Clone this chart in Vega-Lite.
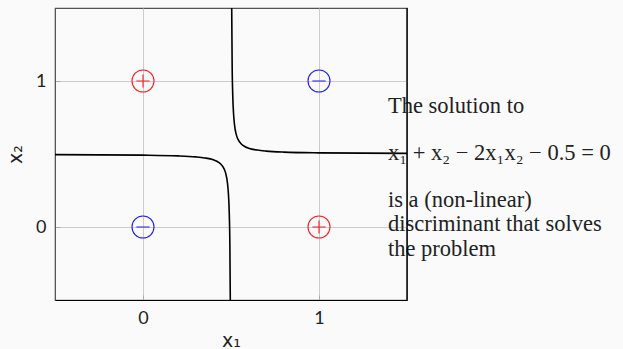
{
  "$schema": "https://vega.github.io/schema/vega-lite/v6.json",
  "width": 352,
  "height": 292,
  "autosize": {"type": "none"},
  "padding": {"left": 55, "top": 8, "right": 216, "bottom": 49},
  "background": "#fafafa",
  "config": {
    "view": {"stroke": "#555", "strokeWidth": 1.2},
    "axis": {
      "gridColor": "#cccccc",
      "gridWidth": 1,
      "ticks": true,
      "tickSize": -5,
      "tickColor": "#aaaaaa",
      "labelFont": "Lato",
      "labelFontSize": 18,
      "labelColor": "#222",
      "titleFont": "DejaVu Sans",
      "titleFontSize": 19,
      "titleFontWeight": "normal",
      "titleColor": "#222"
    }
  },
  "datasets": {
    "points": [
      {"x1": 0, "x2": 1, "sign": "+"},
      {"x1": 1, "x2": 0, "sign": "+"},
      {"x1": 1, "x2": 1, "sign": "-"},
      {"x1": 0, "x2": 0, "sign": "-"}
    ],
    "curve": [
      {"branch": "lower", "x1": -0.5, "x2": 0.496},
      {"branch": "lower", "x1": 0.0, "x2": 0.492},
      {"branch": "lower", "x1": 0.2, "x2": 0.487},
      {"branch": "lower", "x1": 0.3, "x2": 0.48},
      {"branch": "lower", "x1": 0.35, "x2": 0.473},
      {"branch": "lower", "x1": 0.4, "x2": 0.46},
      {"branch": "lower", "x1": 0.42, "x2": 0.45},
      {"branch": "lower", "x1": 0.44, "x2": 0.433},
      {"branch": "lower", "x1": 0.46, "x2": 0.4},
      {"branch": "lower", "x1": 0.47, "x2": 0.367},
      {"branch": "lower", "x1": 0.48, "x2": 0.3},
      {"branch": "lower", "x1": 0.485, "x2": 0.233},
      {"branch": "lower", "x1": 0.49, "x2": 0.1},
      {"branch": "lower", "x1": 0.4935, "x2": -0.115},
      {"branch": "lower", "x1": 0.496, "x2": -0.5},
      {"branch": "upper", "x1": 0.504, "x2": 1.5},
      {"branch": "upper", "x1": 0.5065, "x2": 1.115},
      {"branch": "upper", "x1": 0.51, "x2": 0.9},
      {"branch": "upper", "x1": 0.515, "x2": 0.767},
      {"branch": "upper", "x1": 0.52, "x2": 0.7},
      {"branch": "upper", "x1": 0.53, "x2": 0.633},
      {"branch": "upper", "x1": 0.54, "x2": 0.6},
      {"branch": "upper", "x1": 0.56, "x2": 0.567},
      {"branch": "upper", "x1": 0.58, "x2": 0.55},
      {"branch": "upper", "x1": 0.6, "x2": 0.54},
      {"branch": "upper", "x1": 0.65, "x2": 0.527},
      {"branch": "upper", "x1": 0.7, "x2": 0.52},
      {"branch": "upper", "x1": 0.8, "x2": 0.513},
      {"branch": "upper", "x1": 1.0, "x2": 0.508},
      {"branch": "upper", "x1": 1.5, "x2": 0.504}
    ]
  },
  "layer": [
    {
      "data": {"name": "curve"},
      "mark": {"type": "line", "interpolate": "monotone", "color": "black", "strokeWidth": 1.6, "clip": true},
      "encoding": {
        "x": {
          "field": "x1", "type": "quantitative",
          "scale": {"domain": [-0.5, 1.5], "nice": false, "zero": false},
          "axis": {"values": [0, 1], "format": "d", "title": "x₁", "grid": true, "domainColor": "black", "labelPadding": 14, "titlePadding": 4}
        },
        "y": {
          "field": "x2", "type": "quantitative",
          "scale": {"domain": [-0.5, 1.5], "nice": false, "zero": false},
          "axis": {"values": [0, 1], "format": "d", "title": "x₂", "grid": true, "domainColor": "#555", "labelPadding": 14, "titlePadding": 10}
        },
        "detail": {"field": "branch"},
        "order": {"field": "x1", "type": "quantitative"}
      }
    },
    {
      "data": {"name": "points"},
      "mark": {"type": "point", "filled": false, "strokeWidth": 1.1, "size": 484, "opacity": 1},
      "encoding": {
        "x": {"field": "x1", "type": "quantitative"},
        "y": {"field": "x2", "type": "quantitative"},
        "shape": {
          "field": "sign", "type": "nominal", "legend": null,
          "scale": {
            "domain": ["+", "-"],
            "range": [
              "M1,0A1,1,0,1,1,-1,0A1,1,0,1,1,1,0ZM-0.6,0H0.6M0,-0.6V0.6",
              "M1,0A1,1,0,1,1,-1,0A1,1,0,1,1,1,0ZM-0.6,0H0.6"
            ]
          }
        },
        "color": {
          "field": "sign", "type": "nominal", "legend": null,
          "scale": {"domain": ["+", "-"], "range": ["#ff1a1a", "#1a1aff"]}
        }
      }
    },
    {
      "data": {"values": [{}]},
      "mark": {"type": "text", "align": "left", "baseline": "alphabetic", "font": "Liberation Serif", "fontSize": 22.5, "color": "#222"},
      "encoding": {
        "x": {"datum": 1.392},
        "y": {"datum": 0.779},
        "text": {"value": "The solution to"}
      }
    },
    {
      "data": {"values": [{}]},
      "mark": {"type": "text", "align": "left", "baseline": "alphabetic", "font": "Liberation Serif", "fontSize": 22.5, "color": "#222"},
      "encoding": {
        "x": {"datum": 1.392},
        "y": {"datum": 0.457},
        "text": {"value": "x₁ + x₂ − 2x₁x₂ − 0.5 = 0"}
      }
    },
    {
      "data": {"values": [{}]},
      "mark": {"type": "text", "align": "left", "baseline": "alphabetic", "font": "Liberation Serif", "fontSize": 22.5, "color": "#222"},
      "encoding": {
        "x": {"datum": 1.392},
        "y": {"datum": 0.135},
        "text": {"value": "is a (non-linear)"}
      }
    },
    {
      "data": {"values": [{}]},
      "mark": {"type": "text", "align": "left", "baseline": "alphabetic", "font": "Liberation Serif", "fontSize": 22.5, "color": "#222"},
      "encoding": {
        "x": {"datum": 1.392},
        "y": {"datum": -0.029},
        "text": {"value": "discriminant that solves"}
      }
    },
    {
      "data": {"values": [{}]},
      "mark": {"type": "text", "align": "left", "baseline": "alphabetic", "font": "Liberation Serif", "fontSize": 22.5, "color": "#222"},
      "encoding": {
        "x": {"datum": 1.392},
        "y": {"datum": -0.2},
        "text": {"value": "the problem"}
      }
    },
    {
      "data": {"values": [{}]},
      "mark": {"type": "rule", "color": "black", "strokeWidth": 1.3},
      "encoding": {"x": {"datum": 1.5}}
    }
  ]
}
